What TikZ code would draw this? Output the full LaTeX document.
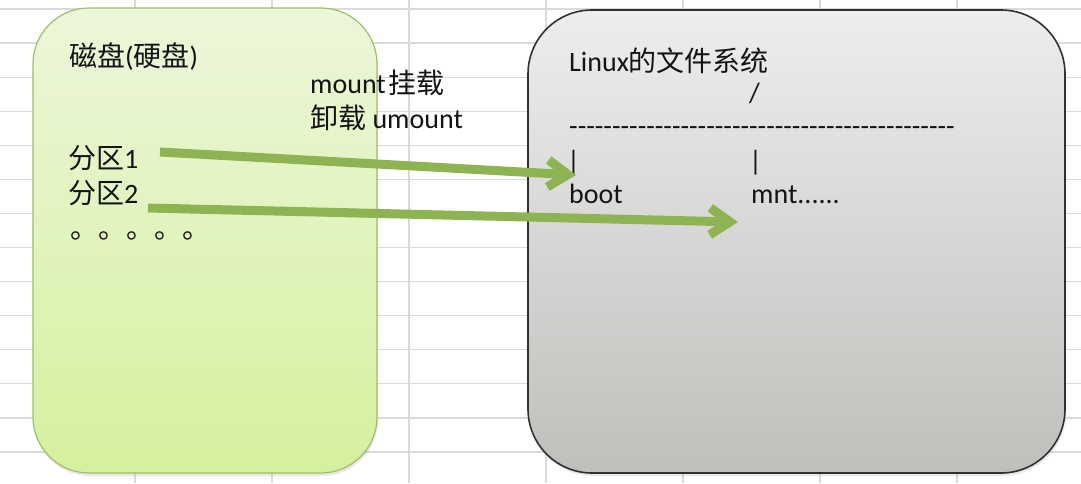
\documentclass[tikz,border=0pt]{standalone}
\usepackage{fontspec}
\setmainfont{Carlito}
\newfontfamily\cjk{Noto Sans CJK SC}
\usetikzlibrary{arrows.meta,shadows}
\definecolor{gridc}{RGB}{218,218,218}
\definecolor{greentop}{RGB}{236,246,218}
\definecolor{greenbot}{RGB}{212,241,158}
\definecolor{greenedge}{RGB}{158,190,105}
\definecolor{graytop}{RGB}{237,237,237}
\definecolor{graybot}{RGB}{191,192,188}
\definecolor{grayedge}{RGB}{48,48,48}
\definecolor{arrowc}{RGB}{141,179,82}
\definecolor{txt}{RGB}{20,20,20}
\newcommand\mydashes{\foreach \i in {1,...,45}{-\kern0pt}}
\begin{document}
\begin{tikzpicture}[x=1pt,y=-1pt,
  lbl/.style={anchor=base west, inner sep=0pt, text=txt, font=\fontsize{28}{32}\selectfont},
  boxstyle/.style={rounded corners=56pt, line width=1.2pt, drop shadow={opacity=0.18, shadow xshift=1pt, shadow yshift=-3pt}},
  leftbox/.style={boxstyle, draw=greenedge, top color=greentop, bottom color=greenbot},
  rightbox/.style={boxstyle, rounded corners=64pt, draw=grayedge, line width=1.6pt, top color=graytop, bottom color=graybot},
  arr/.style={draw=arrowc, line width=9pt, -{Straight Barb[length=20pt,width=27pt]}}]
\useasboundingbox (0,0) rectangle (1081,483);
\fill[white] (0,0) rectangle (1081,483);
% spreadsheet grid
\foreach \x in {135,272,409,546,683,820,957}
  \draw[gridc, line width=1.2pt] (\x,0) -- (\x,483);
\foreach \k in {0,...,13}
  \draw[gridc, line width=1.2pt] (0,{9+34.08*\k}) -- (1081,{9+34.08*\k});
% boxes
\path[leftbox] (33,8) rectangle (377,473);
\path[rightbox] (528,10) rectangle (1065,473);
% left texts
\node[lbl] (disk) at (69,66) {{\cjk 磁盘}({\cjk 硬盘})};
\node[lbl] (mnt) at (310,93) {mount{\kern3pt}{\cjk 挂载}};
\node[lbl] (umnt) at (310,128) {{\cjk 卸载} umount};
\node[lbl] (p1) at (68,168) {{\cjk 分区}1};
\node[lbl] (p2) at (68,203) {{\cjk 分区}2};
\node[lbl] (dots) at (70,238) {{\cjk 。。。。。}};
% right texts
\node[lbl] (fs) at (569,71) {Linux{\cjk 的文件系统}};
\node[lbl] (root) at (749,102) {/};
\node[lbl] (rule) at (569,135) {\mydashes};
\node[lbl] (bar1) at (567,170) {|};
\node[lbl] (bar2) at (749,170) {|};
\node[lbl] (boot) at (569,203) {boot};
\node[lbl] (mntdir) at (751,203) {mnt......};
% arrows
\coordinate (s1) at (160,152);
\coordinate (t1) at (576,175);
\coordinate (s2) at (148,208);
\coordinate (t2) at (738,222);
\draw[arr] (s1) -- (t1);
\draw[arr] (s2) -- (t2);
\end{tikzpicture}
\end{document}
